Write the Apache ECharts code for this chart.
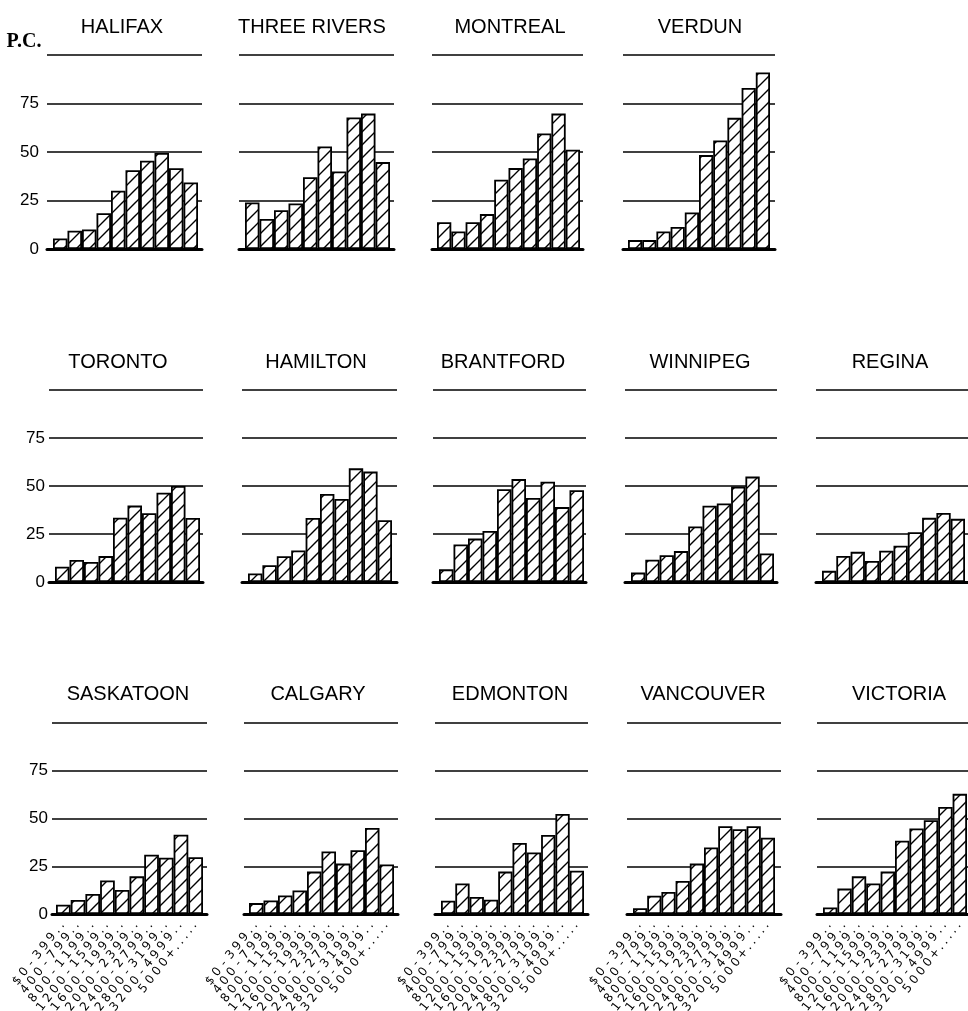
<!DOCTYPE html>
<html>
<head>
<meta charset="utf-8">
<title>Income brackets by city</title>
<script src="https://cdn.jsdelivr.net/npm/echarts@6/dist/echarts.min.js"></script>
<style>
  html, body { margin: 0; padding: 0; background: #fff; }
  #chart { width: 968px; height: 1011px; }
</style>
</head>
<body>
<div id="chart"></div>
<script>
// Income brackets (dollars) shared by every panel
const CATEGORIES = ['$0-399', '400-799', '800-1199', '1200-1599', '1600-1999',
  '2000-2399', '2400-2799', '2800-3199', '3200-4999', '5000+'];

// Percentage scale
const Y_MIN = 0;
const Y_MAX = 100;
const Y_STEP = 25;
const Y_UNIT = 'P.C.';

// Per-city percentages, one value per bracket
const HALIFAX      = [5.4, 9.4, 10.1, 18.4, 30.0, 40.6, 45.5, 49.5, 41.6, 34.3];
const THREE_RIVERS = [24.0, 15.5, 20.0, 23.5, 37.0, 52.8, 40.0, 67.8, 69.8, 44.8];
const MONTREAL     = [13.8, 9.0, 13.8, 18.0, 35.7, 41.7, 46.7, 59.5, 69.8, 51.2];
const VERDUN       = [4.6, 4.6, 9.0, 11.4, 18.8, 48.4, 55.9, 67.6, 83.0, 91.0];
const TORONTO      = [8.0, 11.5, 10.4, 13.5, 33.5, 39.8, 35.8, 46.5, 50.0, 33.3];
const HAMILTON     = [4.4, 8.7, 13.4, 16.4, 33.3, 45.8, 43.2, 59.2, 57.5, 32.2];
const BRANTFORD    = [6.6, 19.5, 22.6, 26.6, 48.3, 53.6, 43.8, 52.2, 39.0, 47.8];
const WINNIPEG     = [4.9, 11.6, 13.9, 16.1, 28.9, 39.7, 40.9, 49.7, 54.9, 14.9];
const REGINA       = [5.8, 13.6, 15.7, 11.0, 16.3, 18.9, 25.9, 33.4, 36.0, 32.9];
const SASKATOON    = [4.9, 7.3, 10.5, 17.6, 12.6, 19.7, 31.0, 29.5, 41.5, 29.7];
const CALGARY      = [5.7, 7.1, 9.7, 12.3, 22.2, 32.7, 26.4, 33.4, 45.0, 25.9];
const EDMONTON     = [7.0, 16.0, 8.9, 7.5, 22.2, 37.2, 32.2, 41.4, 52.4, 22.7];
const VANCOUVER    = [3.0, 9.6, 11.5, 17.3, 26.4, 34.8, 46.0, 44.4, 46.0, 39.9];
const VICTORIA     = [3.4, 13.3, 19.7, 16.0, 22.2, 38.4, 44.8, 49.1, 56.0, 62.9];

const CITY_NAMES = ['HALIFAX', 'THREE RIVERS', 'MONTREAL', 'VERDUN',
  'TORONTO', 'HAMILTON', 'BRANTFORD', 'WINNIPEG', 'REGINA',
  'SASKATOON', 'CALGARY', 'EDMONTON', 'VANCOUVER', 'VICTORIA'];
const CITY_VALUES = [HALIFAX, THREE_RIVERS, MONTREAL, VERDUN,
  TORONTO, HAMILTON, BRANTFORD, WINNIPEG, REGINA,
  SASKATOON, CALGARY, EDMONTON, VANCOUVER, VICTORIA];

// ---- layout (pixels) ----
const ROWS = [
  { top: 55,  bottom: 249, titleY: 27,  labelMargin: 8 },
  { top: 390, bottom: 582, titleY: 362, labelMargin: 4 },
  { top: 723, bottom: 914, titleY: 694, labelMargin: 4 }
];
// row, column, rule extent, bar extent, title centre
const LAYOUT = [
  { row: 0, col: 0, lineL: 47,  lineR: 202, barL: 53,  barR: 198, titleX: 122 },
  { row: 0, col: 1, lineL: 239, lineR: 394, barL: 245, barR: 390, titleX: 312 },
  { row: 0, col: 2, lineL: 432, lineR: 583, barL: 437, barR: 580, titleX: 510 },
  { row: 0, col: 3, lineL: 623, lineR: 775, barL: 628, barR: 770, titleX: 700 },
  { row: 1, col: 0, lineL: 49,  lineR: 203, barL: 55,  barR: 200, titleX: 118 },
  { row: 1, col: 1, lineL: 242, lineR: 397, barL: 248, barR: 392, titleX: 316 },
  { row: 1, col: 2, lineL: 433, lineR: 586, barL: 439, barR: 584, titleX: 503 },
  { row: 1, col: 3, lineL: 625, lineR: 777, barL: 631, barR: 774, titleX: 700 },
  { row: 1, col: 4, lineL: 816, lineR: 968, barL: 822, barR: 965, titleX: 890 },
  { row: 2, col: 0, lineL: 52,  lineR: 207, barL: 56,  barR: 203, titleX: 128 },
  { row: 2, col: 1, lineL: 244, lineR: 398, barL: 249, barR: 394, titleX: 318 },
  { row: 2, col: 2, lineL: 435, lineR: 588, barL: 441, barR: 584, titleX: 510 },
  { row: 2, col: 3, lineL: 627, lineR: 781, barL: 633, barR: 775, titleX: 703 },
  { row: 2, col: 4, lineL: 817, lineR: 968, barL: 823, barR: 967, titleX: 899 }
];

const INK = '#000';
const TITLE_FONT = '20px "Liberation Sans", Arial, sans-serif';
const TICK_FONT = '"DejaVu Sans", sans-serif';

// diagonal hatch used as the bar fill
function hatchPattern() {
  const s = 13;
  const c = document.createElement('canvas');
  c.width = s; c.height = s;
  const g = c.getContext('2d');
  g.fillStyle = '#fff';
  g.fillRect(0, 0, s, s);
  g.strokeStyle = INK;
  g.lineWidth = 1.4;
  g.beginPath();
  g.moveTo(0, s); g.lineTo(s, 0);
  g.moveTo(-2, 2); g.lineTo(2, -2);
  g.moveTo(s - 2, s + 2); g.lineTo(s + 2, s - 2);
  g.stroke();
  return c;
}
const HATCH = { image: hatchPattern(), repeat: 'repeat' };

// lettering-guide style: every character in a fixed-width cell, dotted leader toward the axis
function letterCells(v) {
  const lead = v.length < 6 ? '.....' : '..';
  return (v + lead).split('').map(ch => (ch === '.' ? '{d|.}' : '{c|' + ch + '}')).join('');
}

const grid = [], xAxis = [], yAxis = [], series = [], graphic = [];

LAYOUT.forEach((p, i) => {
  const r = ROWS[p.row];
  const h = r.bottom - r.top;
  const firstCol = p.col === 0;
  const lastRow = p.row === ROWS.length - 1;

  // grid carrying the horizontal rules and the heavy base line
  const gRule = grid.length;
  grid.push({ left: p.lineL, top: r.top, width: p.lineR - p.lineL, height: h,
    containLabel: false, outerBoundsMode: 'none' });
  xAxis.push({
    type: 'value', gridIndex: gRule, min: 0, max: 1, z: 5,
    axisLine: { show: true, onZero: true, lineStyle: { color: INK, width: 3 } },
    axisTick: { show: false }, axisLabel: { show: false }, splitLine: { show: false }
  });
  yAxis.push({
    type: 'value', gridIndex: gRule, min: Y_MIN, max: Y_MAX, interval: Y_STEP,
    axisLine: { show: false }, axisTick: { show: false },
    splitLine: { show: true, lineStyle: { color: INK, width: 1.7 } },
    axisLabel: {
      show: firstCol, margin: r.labelMargin, color: INK, fontSize: 17,
      fontFamily: '"Liberation Sans", Arial, sans-serif',
      formatter: v => (v === Y_MAX ? '' : String(v))
    }
  });

  // grid carrying the bars
  const gBar = grid.length;
  grid.push({ left: p.barL, top: r.top, width: p.barR - p.barL, height: h,
    containLabel: false, outerBoundsMode: 'none' });
  xAxis.push({
    type: 'category', gridIndex: gBar, data: CATEGORIES, boundaryGap: true,
    axisLine: { show: false }, axisTick: { show: false }, splitLine: { show: false },
    axisLabel: {
      show: lastRow, interval: 0, rotate: 52, margin: 8, hideOverlap: false,
      formatter: letterCells,
      rich: {
        c: { width: 11, align: 'center', fontSize: 12, color: INK, fontFamily: TICK_FONT },
        d: { width: 7, align: 'center', fontSize: 12, color: INK, fontFamily: TICK_FONT }
      }
    }
  });
  yAxis.push({ type: 'value', gridIndex: gBar, min: Y_MIN, max: Y_MAX, show: false });

  series.push({
    type: 'bar', name: CITY_NAMES[i], xAxisIndex: gBar, yAxisIndex: gBar,
    data: CITY_VALUES[i], barCategoryGap: '0%', z: 3, silent: true,
    itemStyle: { color: HATCH, borderColor: INK, borderWidth: 1.8 }
  });

  graphic.push({
    type: 'text', x: p.titleX, y: r.titleY, silent: true,
    style: { text: CITY_NAMES[i], font: TITLE_FONT, fill: INK,
      align: 'center', verticalAlign: 'middle', textAlign: 'center', textVerticalAlign: 'middle' }
  });
});

// unit label above the first panel's scale
graphic.push({
  type: 'text', x: 24, y: 42, silent: true,
  style: { text: Y_UNIT, font: 'bold 20px "Liberation Serif", serif', fill: INK,
    align: 'center', verticalAlign: 'middle', textAlign: 'center', textVerticalAlign: 'middle' }
});

const chart = echarts.init(document.getElementById('chart'), null, { renderer: 'canvas' });
chart.setOption({
  animation: false,
  backgroundColor: '#fff',
  grid, xAxis, yAxis, series, graphic
});
</script>
</body>
</html>
